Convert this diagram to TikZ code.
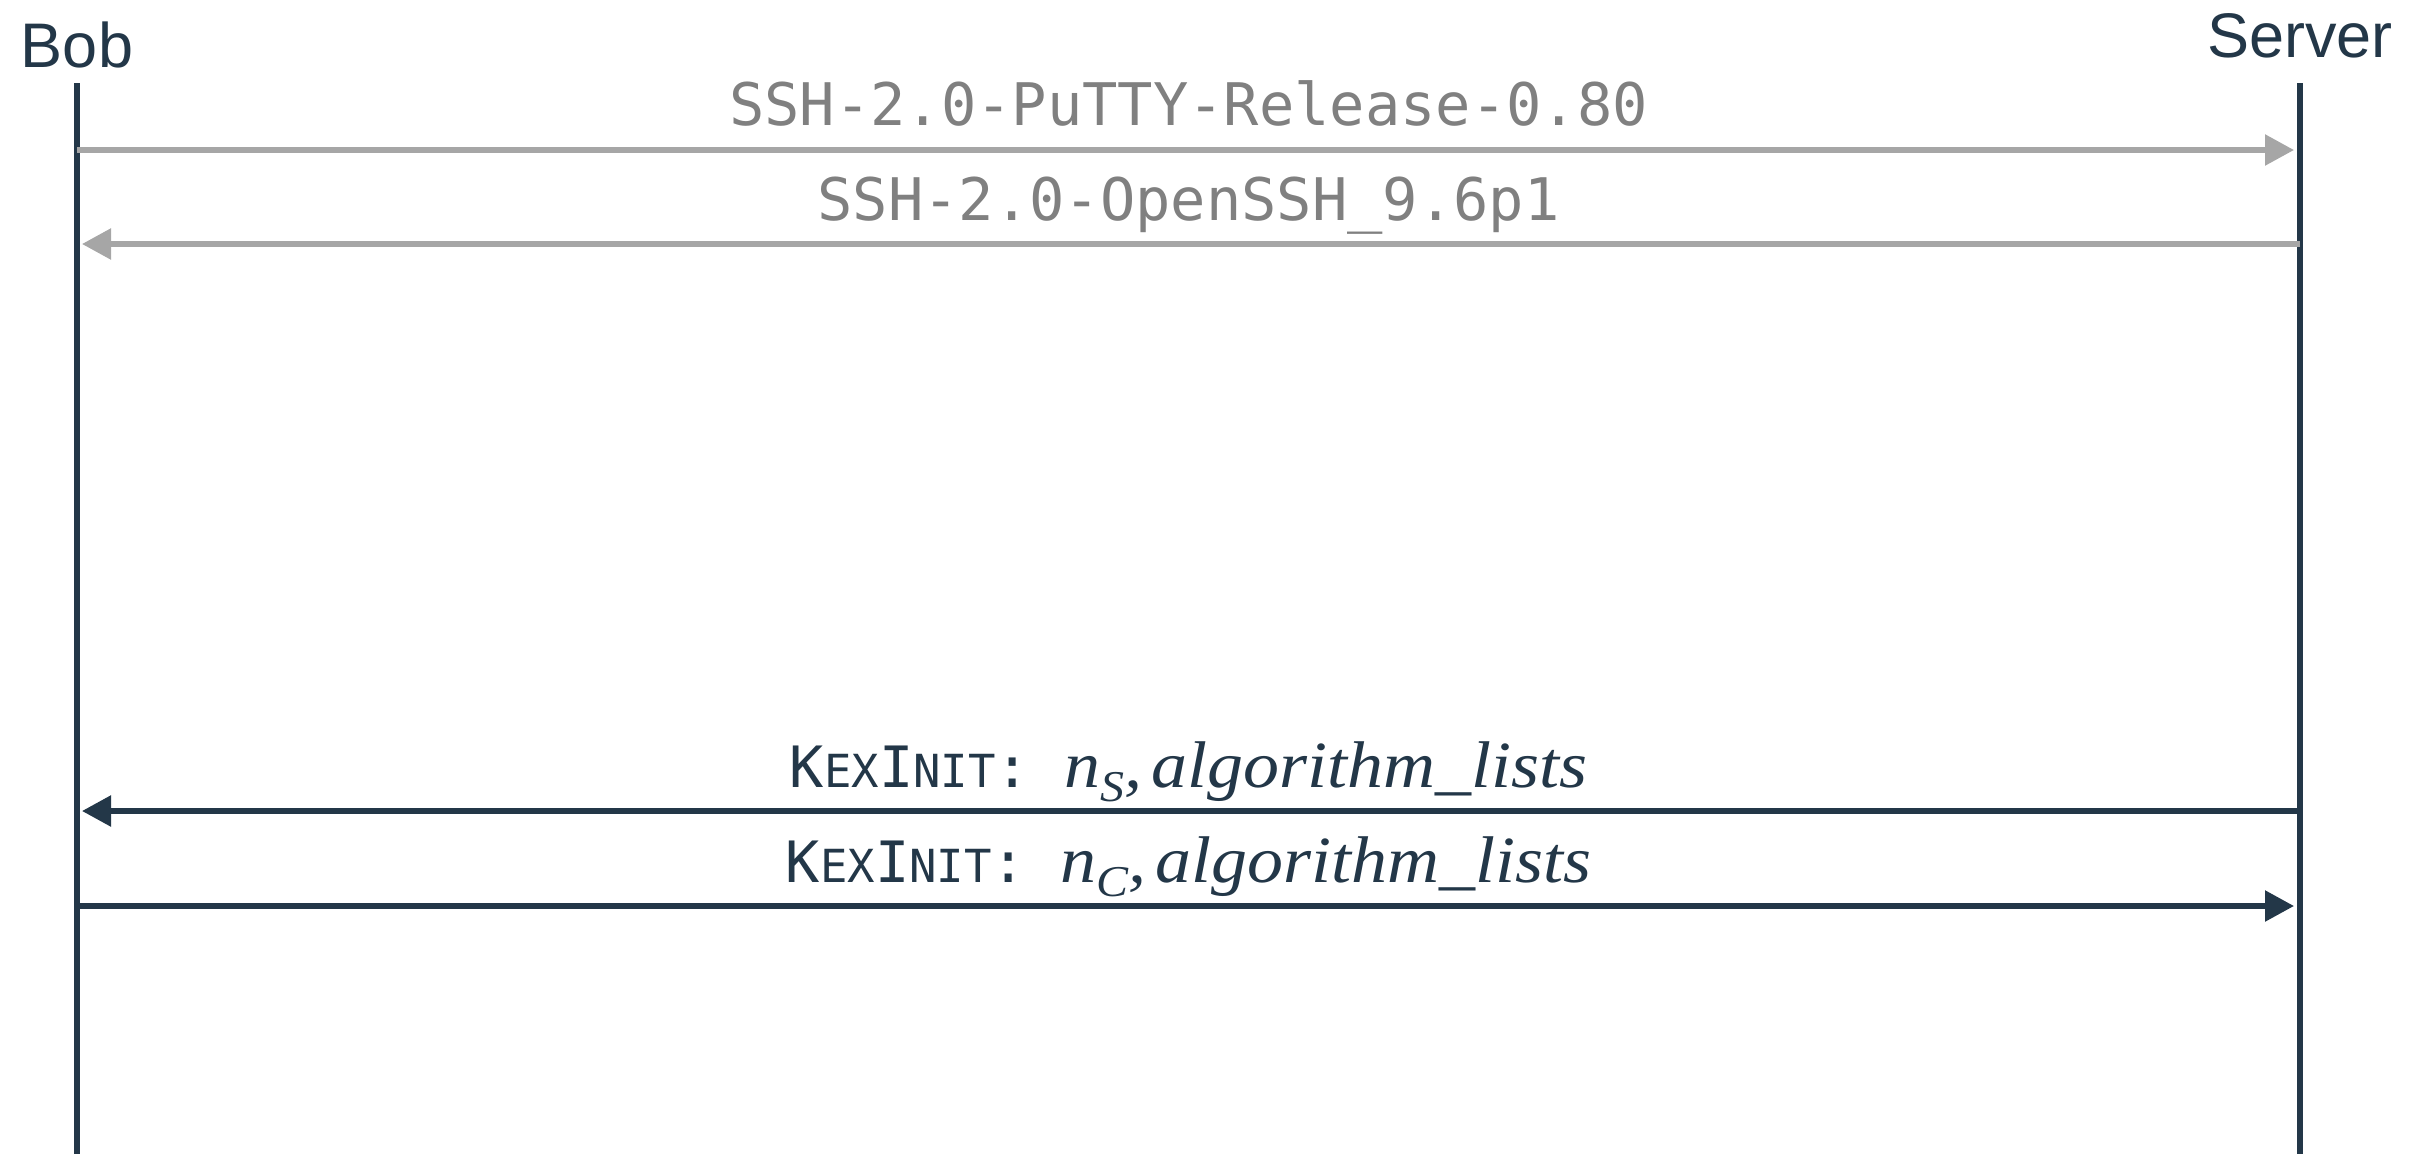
\documentclass[tikz,border=0pt]{standalone}
\usepackage{fontspec}
\setmainfont{Liberation Sans}
\newfontfamily\monof{DejaVu Sans Mono}
\newfontfamily\mathf{Liberation Serif}[FakeStretch=1.09]
\usetikzlibrary{arrows.meta}
\definecolor{navy}{HTML}{233748}
\definecolor{arrowgray}{HTML}{A6A6A6}
\definecolor{textgray}{HTML}{808080}
\newcommand\mysc[1]{{\fontsize{45.6}{48}\selectfont #1}}
\newcommand\mymath[1]{{\mathf\itshape\fontsize{66}{70}\selectfont n\raisebox{-14pt}{\fontsize{44}{46}\selectfont #1},\hspace{9pt}algorithm\_lists}}
\begin{document}
\begin{tikzpicture}[x=1pt,y=-1pt,
  lifeline/.style={draw=navy, line width=6pt},
  actor/.style={anchor=base, inner sep=0pt, font=\fontsize{63}{70}\selectfont, text=navy},
  msggray/.style={draw=arrowgray, line width=5.5pt, -{Triangle[length=29pt,width=30pt]}},
  msgnavy/.style={draw=navy, line width=5.5pt, -{Triangle[length=29pt,width=30pt]}},
  lblgray/.style={anchor=base, inner sep=0pt, text=textgray, font=\monof\fontsize{58.7}{62}\selectfont},
  lblnavy/.style={anchor=base, inner sep=0pt, text=navy, font=\monof\fontsize{57}{60}\selectfont}]
\useasboundingbox (0,0) rectangle (2412,1154);
% actors
\node[actor] (bob) at (77,67) {Bob};
\node[actor] (server) at (2300,57) {Server};
% lifelines
\coordinate (btop) at (77,83);
\coordinate (bbot) at (77,1154);
\coordinate (stop) at (2300,83);
\coordinate (sbot) at (2300,1154);
\draw[lifeline] (btop) -- (bbot);
\draw[lifeline] (stop) -- (sbot);
% message end points
\coordinate (b1) at (77,150);   \coordinate (s1) at (2294,150);
\coordinate (b2) at (82,244);   \coordinate (s2) at (2300,244);
\coordinate (b3) at (82,811);   \coordinate (s3) at (2300,811);
\coordinate (b4) at (77,906);   \coordinate (s4) at (2294,906);
% messages
\draw[msggray] (b1) -- (s1);
\draw[msggray] (s2) -- (b2);
\draw[msgnavy] (s3) -- (b3);
\draw[msgnavy] (b4) -- (s4);
% labels
\node[lblgray] (m1) at (1188.5,125) {SSH-2.0-PuTTY-Release-0.80};
\node[lblgray] (m2) at (1188.5,220) {SSH-2.0-OpenSSH\_9.6p1};
\node[lblnavy] (m3) at (1188.5,787) {K\mysc{EX}I\mysc{NIT}: \mymath{S}};
\node[lblnavy] (m4) at (1188.5,882) {K\mysc{EX}I\mysc{NIT}: \mymath{C}};
\end{tikzpicture}
\end{document}
